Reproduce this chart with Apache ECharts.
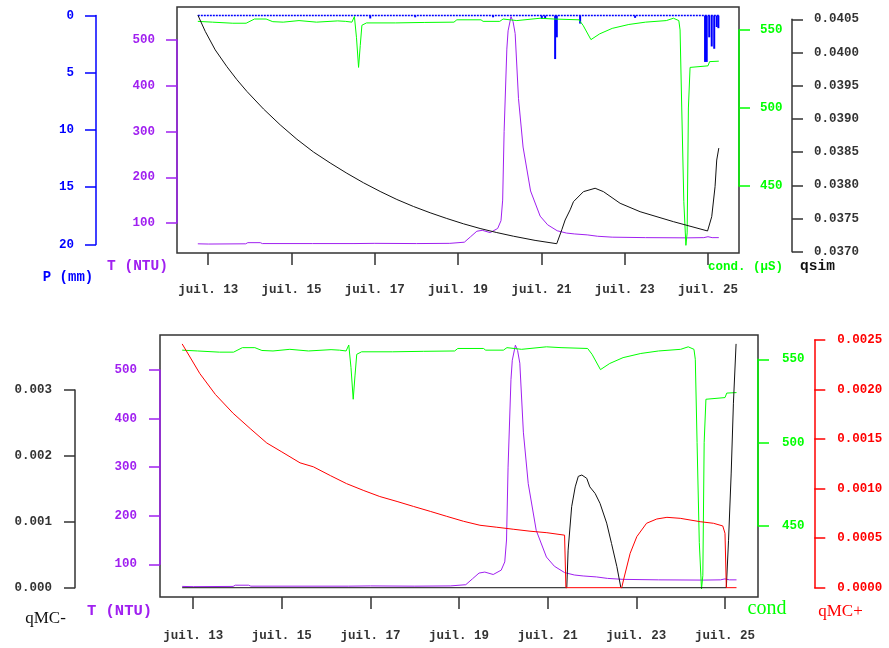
<!DOCTYPE html>
<html><head><meta charset="utf-8">
<script src="https://cdn.jsdelivr.net/npm/echarts@6/dist/echarts.min.js"></script>
<style>html,body{margin:0;padding:0;background:#fff}#c{width:889px;height:648px}</style>
</head><body><div id="c"></div>
<script>
// ---- x axis (days of July) ----
const xTickDays = [13, 15, 17, 19, 21, 23, 25];
const xTickPrefix = 'juil. ';
const xRange = [12.25, 25.745];

// ---- P (mm) rain, bars [day, mm] ----
const pSpan = [12.75, 25.26];
const pBars = [[16.89,0.25],[17.97,0.15],[19.84,0.15],[21.01,0.3],[21.09,0.3],[21.33,3.8],[21.37,1.9],[21.93,0.7],[23.25,0.2],
  [24.93,4.05],[24.97,4.05],[25.03,1.9],[25.09,2.7],[25.15,2.9],[25.21,1.0],[25.25,1.1]];

// ---- T (NTU) turbidity [day, NTU] ----
const turbidity = [[12.75,54.5],[13.0,54],[13.9,54.5],[13.95,57],[14.25,57],[14.3,55],[15.5,55],[16.5,55],[17.0,55.5],[18.0,55],
  [18.8,55.5],[19.15,58],[19.3,70],[19.45,82],[19.58,84],[19.77,79],[19.95,88],[20.03,105],[20.07,150],[20.105,300],[20.17,480],
  [20.2,520],[20.27,551],[20.32,540],[20.37,514],[20.45,372],[20.56,266],[20.74,170],[20.97,115],[21.15,96],[21.38,83],
  [21.6,78],[21.8,76],[22.1,74],[22.35,71],[22.7,69],[23.5,68],[24.5,67.5],[24.9,68],[25.0,70],[25.1,68],[25.26,68]];

// ---- cond (µS) conductivity [day, µS] ----
const conductivity = [[12.75,555.5],[13.1,555],[13.59,554.3],[13.91,554.3],[14.11,557],[14.39,557],[14.55,555.3],[14.8,555],
  [15.18,556],[15.6,555],[16.11,555.8],[16.3,555.5],[16.45,555],[16.51,558.6],[16.56,545],[16.61,526],[16.65,540],[16.69,553],
  [16.8,554.5],[17.5,554.5],[18.2,554.8],[18.9,555],[18.97,556.5],[19.55,556.5],[19.6,555.5],[20.0,555.5],[20.08,557],
  [20.41,556],[20.97,557.5],[21.3,557],[21.9,556.5],[22.0,553],[22.19,543.8],[22.4,547.5],[22.7,551],[23.1,553.5],[23.5,555],
  [24.0,556],[24.17,557.5],[24.3,556],[24.33,550],[24.37,500],[24.42,440],[24.47,412],[24.5,420],[24.53,500],[24.57,526],
  [25.0,527],[25.04,529.7],[25.26,530]];

// ---- qsim [day, value] ----
const qsim = [[12.753,0.04056],[12.928,0.040318],[13.168,0.040039],[13.449,0.039786],[13.689,0.03959],[13.929,0.039413],
  [14.327,0.039149],[14.728,0.03891],[15.129,0.038693],[15.527,0.038501],[15.928,0.038336],[16.329,0.038181],[16.727,0.038038],
  [17.128,0.037907],[17.529,0.037786],[17.927,0.037681],[18.328,0.037586],[18.728,0.0375],[19.127,0.03742],[19.528,0.037349],
  [19.928,0.037288],[20.327,0.037233],[20.848,0.03717],[21.368,0.03712],[21.49,0.03733],[21.57,0.037477],[21.69,0.03763],
  [21.77,0.037753],[22.01,0.037904],[22.29,0.037955],[22.49,0.037904],[22.89,0.037729],[23.37,0.037602],[24.17,0.037452],
  [24.99,0.037312],[25.09,0.037527],[25.17,0.037979],[25.21,0.03838],[25.26,0.03856]];

// ---- qMC- [day, value] ----
const qmcMinus = [[12.75,0],[21.43,0],[21.46,0.00057],[21.54,0.00123],[21.62,0.00153],[21.69,0.00169],[21.77,0.00171],
  [21.88,0.00166],[21.95,0.00153],[22.07,0.00143],[22.18,0.00128],[22.33,0.00098],[22.44,0.00067],[22.56,0.00032],
  [22.65,0],[25.03,0],[25.08,0.00072],[25.14,0.00174],[25.19,0.0028],[25.25,0.0037]];

// ---- qMC+ [day, value] ----
const qmcPlus = [[12.75,0.00246],[13.15,0.00216],[13.5,0.00195],[13.9,0.00176],[14.3,0.0016],[14.66,0.00146],[15.0,0.00137],
  [15.41,0.00126],[15.71,0.00122],[16.1,0.00113],[16.46,0.00105],[16.85,0.00098],[17.21,0.00092],[17.6,0.00087],[17.97,0.00082],
  [18.35,0.00077],[18.72,0.00072],[19.1,0.00067],[19.47,0.00063],[19.85,0.00061],[20.22,0.00059],[20.6,0.00057],[20.98,0.000555],
  [21.38,0.00053],[21.41,0],[22.67,0],[22.71,0.000078],[22.86,0.000347],[23.01,0.000515],[23.23,0.00065],[23.46,0.000693],
  [23.69,0.00071],[23.99,0.0007],[24.44,0.000666],[24.74,0.00065],[24.95,0.000623],[25.0,0.000549],[25.03,0],[25.26,0]];

const C = {blue:'#0000ff', purple:'#a020f0', green:'#00ff00', red:'#ff0000', black:'#222222'};
const MONO = '"Liberation Mono", "Courier New", monospace';
const SERIF = '"Liberation Serif", "Times New Roman", serif';

function mainX(gi){
  return {gridIndex:gi, type:'value', min:xRange[0], max:xRange[1], position:'bottom',
    axisLine:{show:false, onZero:false}, splitLine:{show:false},
    axisTick:{show:true, length:12, inside:false, customValues:xTickDays, lineStyle:{color:'#333', width:1.5}},
    axisLabel:{show:true, customValues:xTickDays, margin: gi===0?30:32, color:'#333', fontFamily:MONO, fontSize:12.5, fontWeight:'bold',
      formatter:v=>xTickPrefix+v}};
}
function hidY(gi,min,max,inverse){ return {gridIndex:gi, type:'value', min, max, inverse:!!inverse, show:false, splitLine:{show:false}}; }
function decoY(gi, side, color, lcolor, min, max, interval, digits, margin, inverse){
  return {gridIndex:gi, type:'value', position:side, min, max, interval, inverse:!!inverse,
    axisLine:{show:true, onZero:false, lineStyle:{color, width:1.5}},
    axisTick:{show:true, length:11, inside:false, lineStyle:{color, width:1.5}},
    axisLabel:{color:lcolor, fontFamily:MONO, fontSize:12.5, fontWeight:'bold', margin, formatter:v=>Number(v).toFixed(digits)},
    splitLine:{show:false}};
}
const decoGrids = [
  {left:96, top:15.6, width:1, height:228.8},
  {left:177, top:40, width:1, height:183},
  {left:738, top:30, width:1, height:156},
  {left:791, top:19.3, width:1, height:232.4},
  {left:75, top:390, width:1, height:197.7},
  {left:160, top:370, width:1, height:194.3},
  {left:757, top:359.3, width:1, height:166.4},
  {left:813.3, top:340, width:1, height:247.7}
];
const grids = [
  {left:177, top:7, width:562, height:246, show:true, borderColor:'#333', borderWidth:1.5, containLabel:false},
  {left:160, top:335, width:598, height:262, show:true, borderColor:'#333', borderWidth:1.5, containLabel:false}
].concat(decoGrids.map(g=>Object.assign({containLabel:false}, g)));

const xAxes = [mainX(0), mainX(1)].concat(decoGrids.map((g,i)=>({gridIndex:i+2, type:'value', min:0, max:1, show:false})));
const yAxes = [
  hidY(0,34.4,572.1), hidY(0,-0.75,20.75,true), hidY(0,407.1,564.7), hidY(0,0.03698,0.040685),
  hidY(1,32.7,572), hidY(1,407.2,564.6), hidY(1,-0.000141,0.003835), hidY(1,-0.000094,0.00255),
  decoY(2,'left',C.blue,C.blue,0,20,5,0,22,true),
  decoY(3,'left',C.purple,C.purple,100,500,100,0,22),
  decoY(4,'right',C.green,C.green,450,550,50,0,21),
  decoY(5,'right','#333','#333',0.037,0.0405,0.0005,4,22),
  decoY(6,'left','#333','#333',0,0.003,0.001,3,23),
  decoY(7,'left',C.purple,C.purple,100,500,100,0,23),
  decoY(8,'right',C.green,C.green,450,550,50,0,24),
  decoY(9,'right',C.red,C.red,0,0.0025,0.0005,4,23)
];
function line(name,data,xi,yi,color,extra){
  return Object.assign({name, type:'line', data, xAxisIndex:xi, yAxisIndex:yi, showSymbol:false, symbol:'none',
    lineStyle:{color, width:1}, itemStyle:{color}, animation:false, silent:true}, extra||{});
}
const series = [
  {name:'P', type:'bar', data:pBars, xAxisIndex:0, yAxisIndex:1, barWidth:2, itemStyle:{color:C.blue}, animation:false, silent:true},
  line('P0', [[pSpan[0],0],[pSpan[1],0]], 0, 1, C.blue, {lineStyle:{color:C.blue, width:1.5, type:[2,1]}}),
  line('T', turbidity, 0, 0, C.purple),
  line('cond', conductivity, 0, 2, C.green),
  line('qsim', qsim, 0, 3, '#111'),
  line('T2', turbidity, 1, 4, C.purple),
  line('cond2', conductivity, 1, 5, C.green),
  line('qMC-', qmcMinus, 1, 6, '#111'),
  line('qMC+', qmcPlus, 1, 7, C.red)
];
function txt(text,x,y,color,font){
  return {type:'text', x, y, silent:true, style:{text, fill:color, font, align:'center', verticalAlign:'middle', textAlign:'center', textVerticalAlign:'middle'}};
}
const graphics = [
  txt('P (mm)', 68, 277, C.blue, 'bold 14px '+MONO),
  txt('T (NTU)', 137.5, 266, C.purple, 'bold 14.5px '+MONO),
  txt('cond. (µS)', 745.5, 266.5, C.green, 'bold 12.5px '+MONO),
  txt('qsim', 817.5, 266, '#111', 'bold 14.5px '+MONO),
  txt('qMC-', 45.5, 619, '#111', '17px '+SERIF),
  txt('T (NTU)', 119.5, 611, C.purple, 'bold 15.5px '+MONO),
  txt('cond', 767, 609, C.green, '20px '+SERIF),
  txt('qMC+', 840.5, 612, C.red, '17px '+SERIF)
];
const chart = echarts.init(document.getElementById('c'), null, {renderer:'canvas'});
chart.setOption({animation:false, backgroundColor:'#fff', grid:grids, xAxis:xAxes, yAxis:yAxes, series, graphic:graphics});
</script></body></html>
